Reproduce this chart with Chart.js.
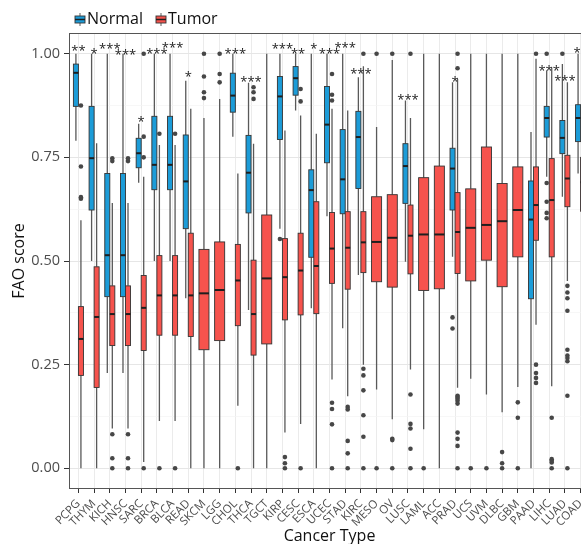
<!DOCTYPE html>
<html><head><meta charset="utf-8">
<script src="https://cdn.jsdelivr.net/npm/chart.js@4.4.1/dist/chart.umd.min.js"></script>
<style>html,body{margin:0;padding:0;overflow:hidden;background:#fff}canvas{display:block}</style>
</head><body><canvas id="c" width="600" height="544"></canvas>
<script>
const categories = ['PCPG','THYM','KICH','HNSC','SARC','BRCA','BLCA','READ','SKCM','LGG','CHOL','THCA','TGCT','KIRP','CESC','ESCA','UCEC','STAD','KIRC','MESO','OV','LUSC','LAML','ACC','PRAD','UCS','UVM','DLBC','GBM','PAAD','LIHC','LUAD','COAD'];

// Normal group: lower whisker, Q1, median, Q3, upper whisker (null = no normal samples)
const normalLow  = [0.79,0.50,0.23,0.23,0.689,0.50,0.50,0.41,null,null,0.80,0.382,null,0.578,0.863,0.386,0.608,0.338,0.466,null,null,0.498,null,null,0.510,null,null,null,null,0.0,0.703,0.655,0.711];
const normalQ1   = [0.873,0.623,0.414,0.414,0.725,0.672,0.672,0.578,null,null,0.859,0.616,null,0.793,0.90,0.509,0.737,0.614,0.675,null,null,0.639,null,null,0.623,null,null,null,null,0.409,0.799,0.759,0.788];
const normalMed  = [0.954,0.748,0.514,0.514,0.760,0.732,0.732,0.692,null,null,0.899,0.713,null,0.897,0.941,0.671,0.829,0.697,0.799,null,null,0.729,null,null,0.723,null,null,null,null,0.600,0.845,0.797,0.845];
const normalQ3   = [0.975,0.873,0.711,0.711,0.796,0.849,0.849,0.804,null,null,0.953,0.803,null,0.945,0.969,0.720,0.921,0.817,0.861,null,null,0.783,null,null,0.772,null,null,null,null,0.693,0.873,0.839,0.877];
const normalHigh = [1.0,1.0,1.0,1.0,0.831,1.0,1.0,0.935,null,null,1.0,0.93,null,1.0,1.0,1.0,1.0,1.0,0.943,null,null,0.887,null,null,0.931,null,null,null,null,0.811,0.96,0.975,1.0];
const normalOutliers = [[],[],[],[],[],[],[],[],[],[],[],[],[],[0.553],[],[],[],[],[],[],[],[],[],[],[0.364,0.337],[],[],[],[],[],[1.0,0.688,0.643,0.616,0.603],[1.0],[]];

// Tumor group
const tumorLow  = [0.0,0.0,0.096,0.096,0.015,0.114,0.114,0.0,0.0,0.0,0.151,0.0,0.0,0.086,0.107,0.0,0.214,0.174,0.25,0.19,0.118,0.238,0.094,0.0,0.194,0.216,0.178,0.135,0.196,0.346,0.198,0.452,0.30];
const tumorQ1   = [0.224,0.195,0.296,0.296,0.284,0.321,0.321,0.318,0.286,0.308,0.344,0.273,0.30,0.358,0.370,0.373,0.446,0.432,0.472,0.450,0.437,0.469,0.429,0.433,0.470,0.452,0.502,0.438,0.510,0.550,0.510,0.631,0.62];
const tumorMed  = [0.312,0.365,0.372,0.372,0.387,0.417,0.417,0.417,0.422,0.430,0.453,0.372,0.458,0.461,0.477,0.488,0.530,0.532,0.545,0.546,0.556,0.561,0.564,0.564,0.570,0.580,0.587,0.596,0.623,0.635,0.647,0.699,0.69];
const tumorQ3   = [0.39,0.486,0.44,0.44,0.465,0.513,0.513,0.567,0.528,0.546,0.540,0.502,0.611,0.554,0.567,0.643,0.617,0.619,0.619,0.655,0.660,0.635,0.701,0.729,0.665,0.674,0.775,0.687,0.727,0.727,0.747,0.755,0.75];
const tumorHigh = [0.598,0.784,0.64,0.64,0.703,0.78,0.78,0.867,0.845,0.891,0.711,0.783,1.0,0.815,0.851,0.807,0.867,0.863,0.97,0.823,0.985,0.845,1.0,1.0,0.939,1.0,1.0,1.0,1.0,0.988,0.967,0.931,0.93];
const tumorOutliers = [
  [0.875,0.728,0.654,0.65],[],[0.748,0.741,0.082,0.024,0.0],[0.748,0.741,0.082,0.024,0.0],
  [1.0,0.80,0.75,0.0],[0.807,0.0],[0.807,0.0],[],
  [1.0,0.945,0.907,0.893],[1.0,0.951,0.931],[0.0],[0.919,0.907,0.891],
  [],[0.027,0.012,0.0],[0.915,0.885,0.0],[],
  [0.951,0.901,0.887,0.158,0.143,0.106,0.0],[0.148,0.142,0.066,0.036,0.0],[1.0,0.24,0.224,0.188,0.128,0.076,0.0],[1.0,0.0],
  [1.0,0.071,0.068,0.0],[1.0,0.178,0.107,0.096,0.047,0.0],[0.0],[],
  [1.0,0.965,0.175,0.172,0.168,0.163,0.156,0.086,0.071,0.054,0.0],[0.0],[0.0],[0.039,0.012,0.0],
  [0.159,0.122,0.0],[1.0,0.25,0.230,0.218,0.206],[0.122,0.022,0.018,0.014,0.0],[0.44,0.424,0.41,0.38,0.286,0.272,0.266,0.258,0.175,0.0],[]
];

// Significance labels and their heights
const sigLabels = ['**','*','***','***','*','***','***','*','','','***','***','','***','**','*','***','***','***','','','***','','','*','','','','','','***','***','**'];
const sigY = [1.014,1.007,1.019,1.003,0.843,1.007,1.022,0.95,null,null,1.007,0.939,null,1.019,1.007,1.019,1.006,1.022,0.958,null,null,0.895,null,null,0.939,null,null,null,null,null,0.966,0.941,1.009];

const yTicks = [0,0.125,0.25,0.375,0.5,0.625,0.75,0.875,1.0];

const NORMAL_COLOR = '#1c9cd8';
const TUMOR_COLOR = '#f6534d';
const FONT = '"Open Sans", "Liberation Sans", sans-serif';

function hasNormal(i){ return normalMed[i] !== null; }
function centerOf(i, group){
  if (!hasNormal(i)) return i;
  return group === 'N' ? i - 0.16 : i + 0.16;
}
function halfWidth(i){ return hasNormal(i) ? 0.16 : 0.32; }

const normalPts = [], tumorPts = [];
categories.forEach((c,i)=>{
  normalOutliers[i].forEach(v=>normalPts.push({x:centerOf(i,'N'), y:v}));
  tumorOutliers[i].forEach(v=>tumorPts.push({x:centerOf(i,'T'), y:v}));
});

function drawBox(ctx, xs, ys, cx, hw, s, fill){
  const xc = xs.getPixelForValue(cx);
  const xl = xs.getPixelForValue(cx-hw), xr = xs.getPixelForValue(cx+hw);
  const yl = ys.getPixelForValue(s[0]), y1 = ys.getPixelForValue(s[1]),
        ym = ys.getPixelForValue(s[2]), y3 = ys.getPixelForValue(s[3]), yh = ys.getPixelForValue(s[4]);
  ctx.strokeStyle = '#595959'; ctx.lineWidth = 1.3;
  ctx.beginPath(); ctx.moveTo(xc, yl); ctx.lineTo(xc, y1); ctx.moveTo(xc, y3); ctx.lineTo(xc, yh); ctx.stroke();
  ctx.fillStyle = fill;
  ctx.fillRect(xl, y3, xr-xl, y1-y3);
  ctx.strokeStyle = '#333'; ctx.lineWidth = 0.9;
  ctx.strokeRect(xl, y3, xr-xl, y1-y3);
  ctx.strokeStyle = '#1e1e1e'; ctx.lineWidth = 2;
  ctx.beginPath(); ctx.moveTo(xl, ym); ctx.lineTo(xr, ym); ctx.stroke();
}

function legendIcon(ctx, x, y, fill){
  ctx.strokeStyle = '#5e5e5e'; ctx.lineWidth = 1;
  ctx.beginPath(); ctx.moveTo(x+5, y); ctx.lineTo(x+5, y+13); ctx.stroke();
  ctx.fillStyle = fill; ctx.fillRect(x, y+3, 10, 7);
  ctx.strokeStyle = '#333'; ctx.lineWidth = 0.9; ctx.strokeRect(x, y+3, 10, 7);
  ctx.strokeStyle = '#1e1e1e'; ctx.lineWidth = 1.5;
  ctx.beginPath(); ctx.moveTo(x, y+6.5); ctx.lineTo(x+10, y+6.5); ctx.stroke();
}

const boxPlugin = {
  id: 'boxplots',
  beforeDatasetsDraw(chart){
    const {ctx, chartArea:a, scales:{x, y}} = chart;
    ctx.save();
    ctx.beginPath(); ctx.rect(a.left, a.top, a.right-a.left, a.bottom-a.top); ctx.clip();
    categories.forEach((c,i)=>{
      if (hasNormal(i)) drawBox(ctx, x, y, centerOf(i,'N'), halfWidth(i),
        [normalLow[i],normalQ1[i],normalMed[i],normalQ3[i],normalHigh[i]], NORMAL_COLOR);
      drawBox(ctx, x, y, centerOf(i,'T'), halfWidth(i),
        [tumorLow[i],tumorQ1[i],tumorMed[i],tumorQ3[i],tumorHigh[i]], TUMOR_COLOR);
    });
    ctx.restore();
  },
  afterDatasetsDraw(chart){
    const {ctx, chartArea:a, scales:{x, y}} = chart;
    ctx.save();
    ctx.fillStyle = '#222';
    ctx.font = '13px ' + FONT;
    ctx.textAlign = 'center'; ctx.textBaseline = 'alphabetic';
    categories.forEach((c,i)=>{
      if (!sigLabels[i]) return;
      ctx.fillText(sigLabels[i], x.getPixelForValue(i), y.getPixelForValue(sigY[i]) + 7);
    });
    ctx.strokeStyle = '#555'; ctx.lineWidth = 1;
    ctx.strokeRect(a.left+0.5, a.top+0.5, a.right-a.left-1, a.bottom-a.top-1);
    ctx.restore();
  },
  afterDraw(chart){
    const ctx = chart.ctx;
    ctx.save();
    legendIcon(ctx, 75, 13, NORMAL_COLOR);
    legendIcon(ctx, 156, 13, TUMOR_COLOR);
    ctx.font = '16px ' + FONT; ctx.fillStyle = '#111';
    ctx.textBaseline = 'middle'; ctx.textAlign = 'left';
    ctx.fillText(chart.data.datasets[0].label, 87, 19.5);
    ctx.fillText(chart.data.datasets[1].label, 168, 19.5);
    ctx.restore();
  }
};

const isMajor = v => Math.abs(v*4 - Math.round(v*4)) < 1e-6;

new Chart(document.getElementById('c'), {
  type: 'scatter',
  data: { datasets: [
    {label:'Normal', data: normalPts, pointRadius:2.3, pointHoverRadius:2.3, backgroundColor:'#474747', borderWidth:0},
    {label:'Tumor', data: tumorPts, pointRadius:2.3, pointHoverRadius:2.3, backgroundColor:'#474747', borderWidth:0}
  ]},
  options: {
    responsive:false, animation:false, devicePixelRatio:1,
    layout:{padding:{left:0, right:10, top:33, bottom:0}},
    plugins:{legend:{display:false}, tooltip:{enabled:false}},
    scales:{
      x:{
        type:'linear', min:-0.6, max:32.6,
        afterBuildTicks: s => { s.ticks = categories.map((c,i)=>({value:i})); },
        afterFit: s => { s.height = 55; },
        ticks:{autoSkip:false, minRotation:45, maxRotation:45, padding:4,
          callback: v => categories[v], color:'#4d4d4d', font:{family:FONT, size:11.5}},
        grid:{color:'#ebebeb', lineWidth:1, tickColor:'#333', tickLength:4, drawTicks:true},
        border:{display:false},
        title:{display:true, text:'Cancer Type', color:'#111', font:{family:FONT, size:16, lineHeight:1}, padding:{top:0,bottom:0}}
      },
      y:{
        min:-0.05, max:1.05,
        afterBuildTicks: s => { s.ticks = yTicks.map(v=>({value:v})); },
        afterFit: s => { s.width = 69; },
        ticks:{padding:4, color:'#4d4d4d', font:{family:FONT, size:14.5},
          callback: v => isMajor(v) ? v.toFixed(2) : ''},
        grid:{
          color: c => (c.tick && isMajor(c.tick.value)) ? '#e6e6e6' : '#f3f3f3',
          lineWidth: c => (c.tick && isMajor(c.tick.value)) ? 1 : 0.7,
          tickColor: c => (c.tick && isMajor(c.tick.value)) ? '#333' : 'rgba(0,0,0,0)',
          tickLength:5, drawTicks:true},
        border:{display:false},
        title:{display:true, text:'FAO score', color:'#111', font:{family:FONT, size:16, lineHeight:1}, padding:{top:11,bottom:0}}
      }
    }
  },
  plugins:[boxPlugin]
});
</script>
</body></html>
